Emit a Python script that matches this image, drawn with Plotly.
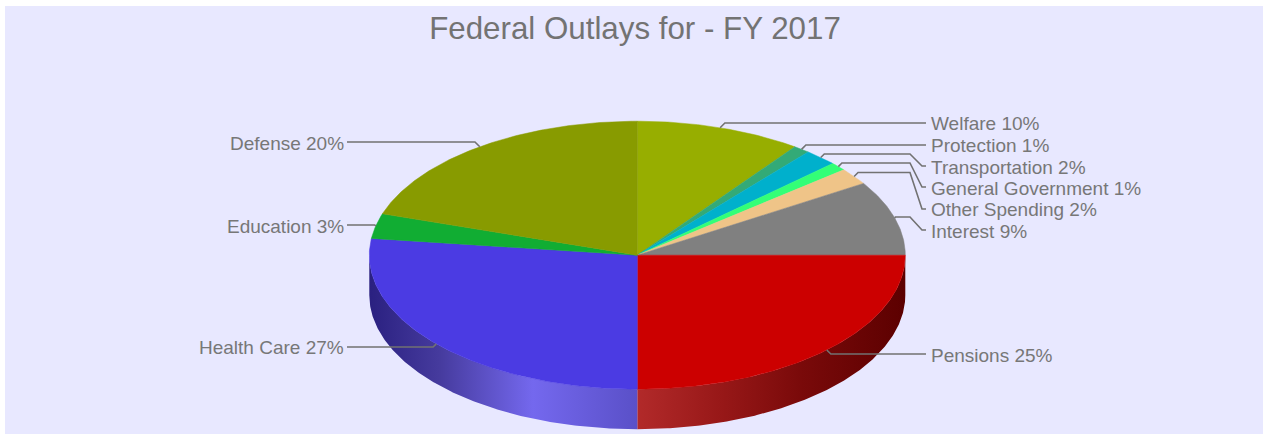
import math
import plotly.graph_objects as go

# ---- data ----
categories = ["Welfare", "Protection", "Transportation", "General Government",
              "Other Spending", "Interest", "Pensions", "Health Care",
              "Education", "Defense"]
values = [10, 1, 2, 1, 2, 9, 25, 27, 3, 20]
title_text = "Federal Outlays for - FY 2017"

# ---- style ----
colors = ["#97AE00", "#33AA77", "#00B0CC", "#33FF77", "#EFC488",
          "#808080", "#CC0000", "#4B3BE3", "#11AD33", "#889B00"]
label_color = "#777777"
wall_stops = {
    "Pensions": [(637, "#B22A2A"), (720, "#981818"), (800, "#7A0A0A"), (905, "#5C0000")],
    "Health Care": [(369, "#2A2080"), (440, "#463B9E"), (533, "#7468EE"), (637, "#5A50C8")],
}
# label layout: text y, leader y, lower leader y
label_y = [123.5, 145.5, 167.5, 188.5, 209.5, 231.5, 355.5, 347.5, 226.5, 143.5]
leader_y = [123, 145, 154, 163, 172.5, 217, 354, 347, 225, 142]
bottom_y = [None, None, 166, 187, 209, 230, None, None, None, None]

CX, CY, RX, RY, DEPTH = 637.3, 255.2, 268, 134, 40
RIGHT_X, LEFT_X = 926, 347


def pt(deg, dy=0):
    a = math.radians(deg)
    return CX + RX * math.sin(a), CY - RY * math.cos(a) + dy


total = sum(values)
fig = go.Figure()
bounds = []
acc = 0
for v in values:
    bounds.append((acc / total * 360, (acc + v) / total * 360))
    acc += v

# side wall, front half only
for name, (a0, a1) in zip(categories, bounds):
    lo, hi = max(a0, 90), min(a1, 270)
    if lo >= hi or name not in wall_stops:
        continue
    n = int((hi - lo) * 2)
    top = [pt(lo + (hi - lo) * i / n) for i in range(n + 1)]
    bot = [pt(lo + (hi - lo) * i / n, DEPTH) for i in range(n, -1, -1)]
    poly = top + bot + [top[0]]
    stops = wall_stops[name]
    x0, x1 = stops[0][0], stops[-1][0]
    fig.add_trace(go.Scatter(
        x=[q[0] for q in poly], y=[q[1] for q in poly],
        mode="lines", fill="toself", line=dict(width=0),
        fillgradient=dict(type="horizontal", start=x0, stop=x1,
                          colorscale=[[(x - x0) / (x1 - x0), c] for x, c in stops]),
        hoverinfo="skip", showlegend=False))

# top face
for name, col, (a0, a1) in zip(categories, colors, bounds):
    n = max(2, int((a1 - a0) * 2))
    arc = [pt(a0 + (a1 - a0) * i / n) for i in range(n + 1)]
    xs = [CX] + [q[0] for q in arc] + [CX]
    ys = [CY] + [q[1] for q in arc] + [CY]
    fig.add_trace(go.Scatter(x=xs, y=ys, mode="lines", fill="toself", fillcolor=col,
                             line=dict(color=col, width=0.5), name=name,
                             hoverinfo="name", showlegend=False))

# leader lines and labels
annotations = []
for i, (name, v, (a0, a1)) in enumerate(zip(categories, values, bounds)):
    mid = (a0 + a1) / 2
    ax, ay = pt(mid)
    right = mid < 180
    sign = 1 if right else -1
    ly = leader_y[i]
    end = RIGHT_X if right else LEFT_X
    dy = ly - ay
    bend_x = ax + sign * min(abs(dy), 5) if abs(dy) > 0.5 else ax
    xs, ys = [ax, bend_x], [ay, ly]
    if bottom_y[i] is not None:
        xs += [910, 922, end]
        ys += [ly, bottom_y[i], bottom_y[i]]
    else:
        xs.append(end)
        ys.append(ly)
    fig.add_trace(go.Scatter(x=xs, y=ys, mode="lines", line=dict(color="#727272", width=1.6),
                             hoverinfo="skip", showlegend=False))
    annotations.append(dict(
        x=end + (3 if right else -1), y=label_y[i], xref="x", yref="y",
        text=f"{name} {v}%", showarrow=False,
        xanchor="left" if right else "right", yanchor="middle",
        font=dict(family="Liberation Sans", size=19, color=label_color)))

fig.update_layout(
    width=1263, height=434,
    margin=dict(l=5, r=0, t=6, b=0),
    paper_bgcolor="#FFFFFF", plot_bgcolor="#E8E8FF",
    title=dict(text=title_text, x=635 / 1263, xref="container", xanchor="center",
               y=1 - 28.5 / 434, yref="container", yanchor="middle",
               font=dict(family="Liberation Sans", size=31.3, color="#737373")),
    xaxis=dict(range=[5, 1263], visible=False, fixedrange=True),
    yaxis=dict(range=[434, 6], visible=False, fixedrange=True),
    annotations=annotations,
    showlegend=False,
)
fig.write_html("out.html", config=dict(displayModeBar=False),
               post_script="document.body.style.margin='0';document.body.style.overflow='hidden';")
